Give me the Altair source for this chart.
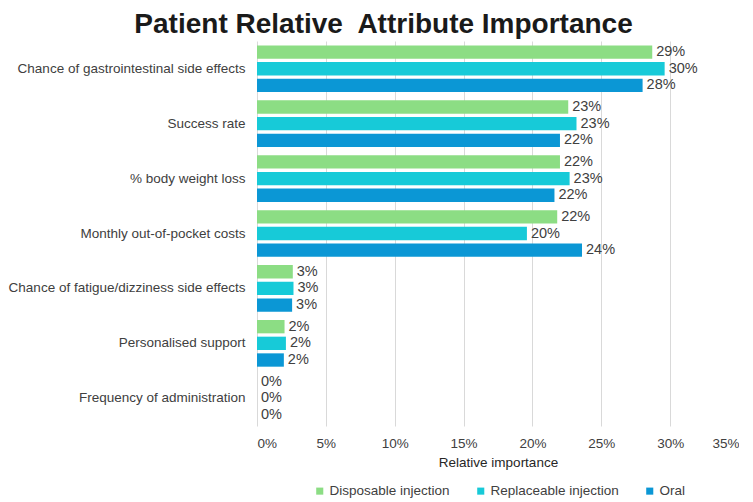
import altair as alt
import pandas as pd

attributes = [
    "Chance of gastrointestinal side effects",
    "Success rate",
    "% body weight loss",
    "Monthly out-of-pocket costs",
    "Chance of fatigue/dizziness side effects",
    "Personalised support",
    "Frequency of administration",
]
series = ["Disposable injection", "Replaceable injection", "Oral"]
disposable = [28.7, 22.6, 22.0, 21.8, 2.6, 2.0, 0.0]
replaceable = [29.6, 23.2, 22.7, 19.6, 2.65, 2.1, 0.0]
oral = [28.0, 22.0, 21.6, 23.6, 2.55, 1.95, 0.0]
colors = ["#8CDD84", "#17CAD8", "#0B97D5"]
x_ticks = [0, 5, 10, 15, 20, 25, 30, 35]

rows = []
for name, vals in zip(series, [disposable, replaceable, oral]):
    for a, v in zip(attributes, vals):
        rows.append({"attribute": a, "series": name, "value": v})
df = pd.DataFrame(rows)

FONT = "Liberation Sans"

base = alt.Chart(df).transform_calculate(
    label="format(datum.value, '.0f') + '%'"
).encode(
    y=alt.Y(
        "attribute:N",
        sort=attributes,
        title=None,
        scale=alt.Scale(paddingInner=0.15, paddingOuter=0.08),
        axis=alt.Axis(ticks=False, domain=False, labelPadding=12, labelFontSize=13.5,
                      labelColor="#404040", labelFont=FONT, labelLimit=400),
    ),
    yOffset=alt.YOffset("series:N", sort=series, scale=alt.Scale(paddingInner=0.2)),
)

bars = base.mark_bar().encode(
    x=alt.X(
        "value:Q",
        scale=alt.Scale(domain=[0, 35], nice=False),
        axis=alt.Axis(values=x_ticks, labelExpr="datum.value + '%'", title="Relative importance",
                      grid=True, gridColor="#D9D9D9", domain=False, ticks=False,
                      labelFontSize=13.5, labelColor="#404040", labelFont=FONT, labelPadding=10,
                      titleFontSize=13.5, titleFontWeight="normal", titleColor="#262626",
                      titleFont=FONT, titlePadding=6),
    ),
    color=alt.Color(
        "series:N",
        sort=series,
        scale=alt.Scale(domain=series, range=colors),
        legend=alt.Legend(orient="none", legendX=56, legendY=443, direction="horizontal",
                          title=None, symbolType="square", symbolSize=50,
                          labelFontSize=13.5, labelColor="#404040", labelFont=FONT,
                          columnPadding=24, symbolStrokeWidth=0, labelOffset=3),
    ),
)

text = base.mark_text(align="left", dx=4, fontSize=14.5, color="#404040", font=FONT).encode(
    x=alt.X("value:Q"),
    text=alt.Text("label:N"),
)

chart = alt.layer(bars, text).properties(
    width=482,
    height=385,
    padding={"top": 3, "left": 0, "right": 0, "bottom": 0},
    title=alt.TitleParams("Patient Relative\u00a0 Attribute Importance", fontSize=28, font=FONT,
                          fontWeight="bold", color="#1a1a1a", anchor="middle", frame="bounds",
                          dx=10, offset=2),
).configure_view(stroke=None)

chart.save("out.html", embed_options={"renderer": "svg", "actions": False})
